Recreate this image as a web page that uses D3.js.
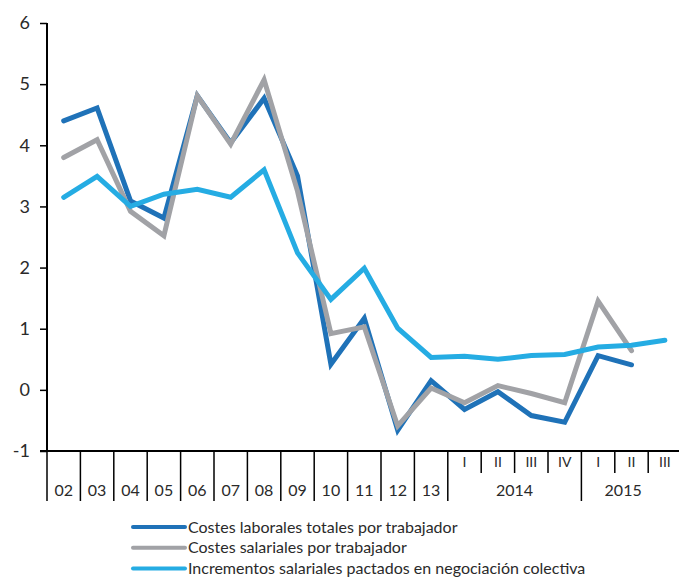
<!doctype html>
<html>
<head>
<meta charset="UTF-8">
<title>Costes laborales</title>
<script src="https://d3js.org/d3.v7.min.js"></script>
<style>
	body { margin: 0; background: #fff; }
	.chart text { font-family: Lato, "Open Sans", sans-serif; fill: #2a2a2a; }
	.axis path, .axis line { stroke: #000; }
</style>
</head>
<body>
<svg class="chart" width="679" height="579"></svg>
<script>
var categories = ['02','03','04','05','06','07','08','09','10','11','12','13',
	'2014-I','2014-II','2014-III','2014-IV','2015-I','2015-II','2015-III'];
var periodLabels = ['02','03','04','05','06','07','08','09','10','11','12','13',
	'I','II','III','IV','I','II','III'];
var yearGroups = ['2014', '2015'];
var yTicks = [-1, 0, 1, 2, 3, 4, 5, 6];

var costesLaborales = [4.40, 4.61, 3.09, 2.81, 4.81, 4.04, 4.77, 3.50, 0.42, 1.17, -0.66, 0.15,
	-0.32, -0.03, -0.42, -0.53, 0.56, 0.41, null];
var costesSalariales = [3.80, 4.09, 2.92, 2.52, 4.81, 4.02, 5.07, 3.25, 0.92, 1.03, -0.59, 0.03,
	-0.21, 0.07, -0.06, -0.21, 1.45, 0.64, null];
var incrementosPactados = [3.15, 3.49, 3.00, 3.20, 3.28, 3.15, 3.60, 2.24, 1.48, 1.99, 1.01, 0.53,
	0.55, 0.50, 0.56, 0.58, 0.70, 0.73, 0.81];

var seriesNames = ['Costes laborales totales por trabajador', 'Costes salariales por trabajador',
	'Incrementos salariales pactados en negociación colectiva'];
var seriesColors = ['#1f72b8', '#a1a2a6', '#25ace3'];
var seriesValues = [costesLaborales, costesSalariales, incrementosPactados];

var chart = d3.select('.chart');
var plotLeft = 47, plotTop = 23, plotBottom = 451, plotRight = 47 + 19 * 33.4;

var x = d3.scaleBand().domain(categories).range([plotLeft, plotRight]);
var y = d3.scaleLinear().domain([-1, 6]).range([plotBottom, plotTop]);

// y axis
var yAxis = chart.append('g')
	.attr('class', 'axis')
	.attr('transform', 'translate(' + plotLeft + ',0)')
	.call(d3.axisLeft(y).tickValues(yTicks).tickSize(7).tickPadding(10).tickFormat(function(d) { return String(d); }));
yAxis.select('.domain').attr('stroke-width', 2).attr('d', 'M0,' + plotTop + 'V' + plotBottom);
yAxis.selectAll('line').attr('stroke-width', 1.5);
yAxis.selectAll('text').style('font-size', '18px').attr('fill', '#2a2a2a');

// x axis line
chart.append('line')
	.attr('x1', plotLeft - 7).attr('x2', 679)
	.attr('y1', plotBottom).attr('y2', plotBottom)
	.attr('stroke', '#000').attr('stroke-width', 2);

// category separators
var xg = chart.append('g').attr('class', 'axis');
categories.forEach(function(c, i) {
	var isQuarter = c.indexOf('-') > 0;
	var prevQuarter = i > 0 && categories[i - 1].indexOf('-') > 0;
	var newYear = !isQuarter || !prevQuarter || periodLabels[i] === 'I';
	xg.append('line')
		.attr('x1', x(c)).attr('x2', x(c))
		.attr('y1', plotBottom).attr('y2', newYear ? 501 : 473)
		.attr('stroke', '#000').attr('stroke-width', 1.5);
	xg.append('text')
		.attr('x', x(c) + x.bandwidth() / 2)
		.attr('y', isQuarter ? 467 : 496)
		.attr('text-anchor', 'middle')
		.style('font-size', isQuarter ? '14px' : '16px')
		.text(periodLabels[i]);
});
yearGroups.forEach(function(yr) {
	var cats = categories.filter(function(c) { return c.indexOf(yr) === 0; });
	var x0 = x(cats[0]);
	var x1 = yr === '2015' ? x(cats[cats.length - 1]) + x.bandwidth() * 0.5 : x(cats[cats.length - 1]) + x.bandwidth();
	xg.append('text')
		.attr('x', (x0 + x1) / 2)
		.attr('y', 496)
		.attr('text-anchor', 'middle')
		.style('font-size', '16px')
		.text(yr);
});

// lines
var line = d3.line()
	.defined(function(d) { return d !== null; })
	.x(function(d, i) { return x(categories[i]) + x.bandwidth() / 2; })
	.y(function(d) { return y(d); });

seriesValues.forEach(function(vals, k) {
	chart.append('path')
		.datum(vals)
		.attr('fill', 'none')
		.attr('stroke', seriesColors[k])
		.attr('stroke-width', 5)
		.attr('stroke-linejoin', 'miter')
		.attr('stroke-linecap', 'round')
		.attr('d', line);
});

// legend
var legend = chart.append('g').attr('transform', 'translate(133,527)');
seriesNames.forEach(function(name, k) {
	var g = legend.append('g').attr('transform', 'translate(0,' + (k * 20.8) + ')');
	g.append('line')
		.attr('x1', 0).attr('x2', 52)
		.attr('stroke', seriesColors[k])
		.attr('stroke-width', 4)
		.attr('stroke-linecap', 'round');
	g.append('text')
		.attr('x', 55)
		.attr('dy', '0.35em')
		.style('font-size', '16px')
		.text(name);
});
</script>
</body>
</html>
